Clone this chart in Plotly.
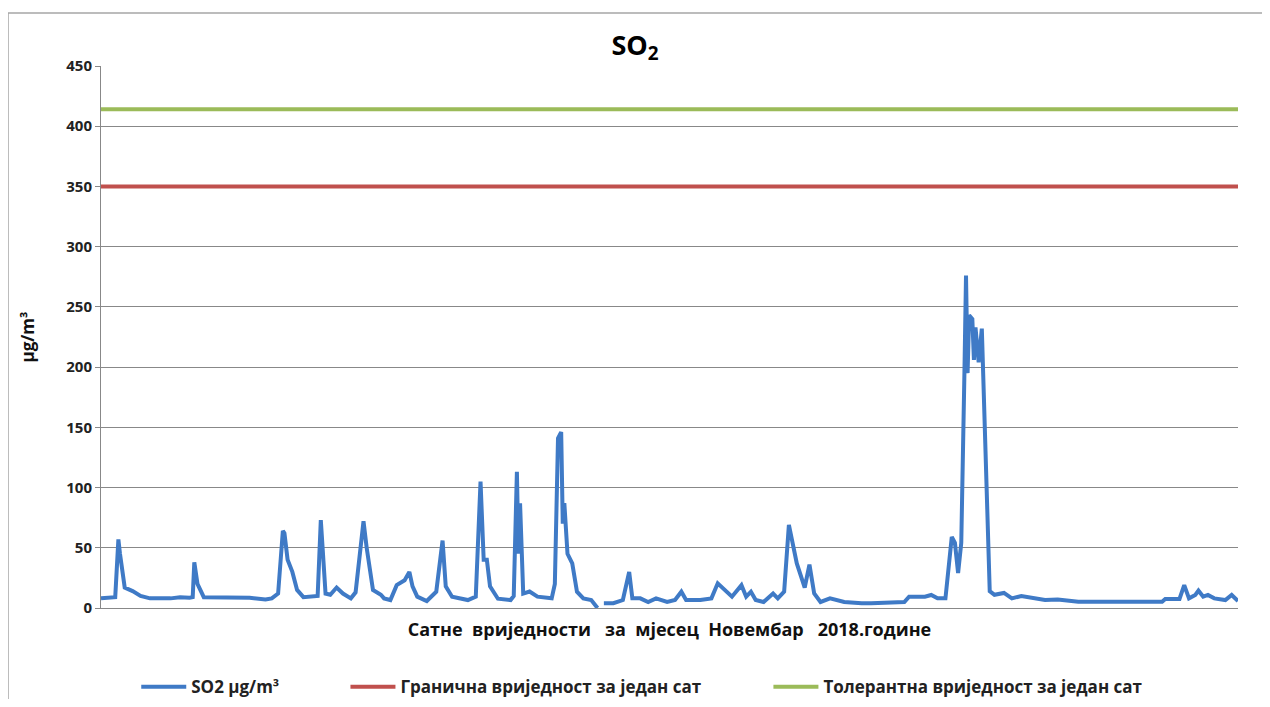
import plotly.graph_objects as go

# hourly SO2 readings, November 2018 (hour index)
hours = [0, 9, 11, 12, 15, 20, 25, 31, 44, 50, 56, 58, 59, 61, 65, 82, 94, 104, 108,
         112, 115, 116, 118, 121, 124, 128, 137, 139, 142, 145, 149, 153, 158, 161,
         166, 168, 172, 177, 179, 183, 187, 192, 195, 197, 200, 206, 212, 216, 218,
         222, 232, 237, 240, 242, 244, 246, 251, 259, 261, 263, 264, 265, 267, 271,
         276, 285, 287, 289, 291, 292, 293, 295, 298, 301, 305, 310, 314, 315, 318,
         324, 330, 332, 334, 336, 341, 346, 351, 358, 363, 367, 370, 379, 386, 390,
         393, 396, 399, 405, 408, 411, 414, 419, 425, 428, 432, 435, 440, 445, 448,
         451, 455, 461, 470, 481, 487, 508, 511, 521, 525, 529, 534, 538, 540, 542,
         544, 546, 547, 548, 549, 551, 552, 553, 555, 557, 558, 560, 562, 565, 571,
         576, 582, 597, 605, 618, 671, 673, 682, 685, 688, 692, 694, 697, 700, 704,
         711, 715, 719]
so2 = [8, 9, 57, 45, 17, 14, 10, 8, 8, 9, 8.5, 9, 38, 20, 9, 9, 8.5, 7, 8,
       12, 64, 62, 40, 30, 15, 9, 10, 73, 12, 11, 17, 12, 8, 13,
       72, 50, 15, 11, 8, 6.6, 19, 23, 30, 18, 9.4, 5.8, 13.5, 56, 18,
       9.4, 6.6, 9.4, 105, 40, 40, 18, 7.7, 6.6, 10, 113, 45, 87, 12, 13.7,
       9.4, 8, 20, 141, 146, 70, 87, 45, 37, 13.5, 8, 6.6, 0, None, 4,
       4, 6.6, 18, 30, 8, 8, 5, 8, 5, 6.6, 13.5, 6.6, 6.6, 8, 20.5,
       17, 13.5, 9.4, 19, 9.4, 13.5, 6.6, 5, 12, 8, 13.5, 69, 37, 17, 36,
       12, 5, 8, 5, 4, 4, 5, 9.4, 9.4, 10.8, 8, 8, 59, 54, 29,
       54, 195, 276, 195, 243, 240, 206, 233, 204, 232, 192, 95, 14, 11, 12.5,
       8, 10, 6.6, 7, 5.2, 5.2, 7.5, 7.5, 19, 8, 10.8, 14.4, 9.4, 10.8, 8,
       6.6, 10.8, 5.8]

limit_value = 350       # granična vrijednost
tolerance_value = 414   # tolerantna vrijednost
span = [0, 719]

FONT = "Open Sans, Liberation Sans, sans-serif"
GRID = "#888888"
NB = "\u00a0"

fig = go.Figure()

fig.add_trace(go.Scatter(
    x=hours, y=so2, mode="lines", name="<b>SO2 µg/m³</b>",
    line=dict(color="#3F7AC6", width=4), connectgaps=False, legend="legend"))
fig.add_trace(go.Scatter(
    x=span, y=[limit_value] * 2, mode="lines",
    name="<b>Гранична вриједност за један сат</b>",
    line=dict(color="#C0504D", width=4), legend="legend2"))
fig.add_trace(go.Scatter(
    x=span, y=[tolerance_value] * 2, mode="lines",
    name="<b>Толерантна вриједност за један сат</b>",
    line=dict(color="#9BBB59", width=4), legend="legend3"))

legend_common = dict(orientation="h", yanchor="middle", y=-0.146, xanchor="left",
                     font=dict(family=FONT, size=17, color="#222"),
                     bgcolor="rgba(0,0,0,0)", itemwidth=45)

x_title = NB.join(["Сатне", " вриједности", "  за", " мјесец", " Новембар", "  2018.године"])
x_title = x_title.replace(" ", NB)

# page body has an 8px margin, so the figure is 16px smaller than the window
fig.update_layout(
    width=1254, height=691,
    paper_bgcolor="white", plot_bgcolor="white",
    margin=dict(l=93, r=24, t=58, b=91, autoexpand=False),
    title=dict(text="<b>SO<sub>2</sub></b>", x=0.5, xanchor="center",
               y=0.946, yanchor="middle",
               font=dict(family=FONT, size=27, color="black")),
    font=dict(family=FONT, color="#222"),
    legend=dict(legend_common, x=0.031),
    legend2=dict(legend_common, x=0.215),
    legend3=dict(legend_common, x=0.587),
    showlegend=True,
    shapes=[dict(type="rect", xref="paper", yref="paper",
                 x0=-0.0818, x1=1.2, y0=-0.3, y1=1.098,
                 line=dict(color="#A6A6A6", width=1.5), layer="below")],
)

fig.update_xaxes(range=span, showgrid=False, zeroline=False, showticklabels=False,
                 showline=True, linecolor=GRID, linewidth=1,
                 title=dict(text="<b>" + x_title + "</b>",
                            font=dict(family=FONT, size=18, color="#111"), standoff=15))
fig.update_yaxes(range=[0, 450], dtick=50, showgrid=True, gridcolor=GRID, gridwidth=1,
                 zeroline=False, showline=True, linecolor=GRID, linewidth=1,
                 ticks="outside", ticklen=5, tickcolor=GRID,
                 tickfont=dict(family=FONT, size=15, color="#222"),
                 tickprefix="<b>", ticksuffix="</b>",
                 title=dict(text="<b>µg/m³</b>", font=dict(family=FONT, size=17, color="#111"),
                            standoff=27))

fig.write_html("out.html")
